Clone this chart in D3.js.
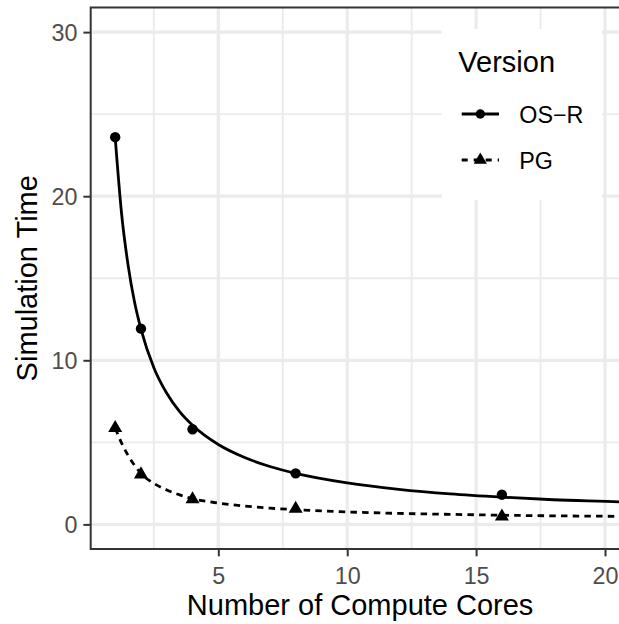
<!DOCTYPE html>
<html>
<head>
<meta charset="utf-8">
<script src="https://cdn.jsdelivr.net/npm/d3@7"></script>
<style>
  html, body { margin: 0; padding: 0; background: #fff; }
  svg { display: block; font-family: "Liberation Sans", Arial, Helvetica, sans-serif; }
</style>
</head>
<body>
<svg id="chart" width="619" height="624"></svg>
<script>
// ---- data ----
const cores = [1, 2, 4, 8, 16];
const osrTime = [23.6, 11.93, 5.8, 3.11, 1.81];
const pgTime = [5.87, 3.05, 1.53, 0.95, 0.48];

// smooth fitted curves as seen in the picture
const fitX   = [1, 1.25, 1.5, 1.75, 2, 2.5, 3, 3.5, 4, 5, 6, 7, 8, 10, 12, 14, 16, 18, 20.54, 21];
const fitOSR = [23.58, 18.9, 15.8, 13.55, 11.9, 9.55, 7.99, 6.87, 6.04, 4.87, 4.09, 3.53, 3.11, 2.53, 2.14, 1.86, 1.66, 1.5, 1.37, 1.34];
const fitPG  = [5.87, 4.95, 4.2, 3.6, 3.1, 2.5, 2.1, 1.8, 1.57, 1.3, 1.12, 0.99, 0.9, 0.76, 0.67, 0.61, 0.56, 0.52, 0.49, 0.48];

const xTicks = [5, 10, 15, 20];
const yTicks = [0, 10, 20, 30];
const xMinor = [2.5, 7.5, 12.5, 17.5];
const yMinor = [5, 15, 25];
const seriesNames = ["OS\u2212R", "PG"];
const legendTitle = "Version";
const xTitle = "Number of Compute Cores";
const yTitle = "Simulation Time";

// ---- layout ----
const svg = d3.select("#chart");
const panel = { left: 90.7, right: 629.5, top: 7.5, bottom: 549 };

const x = d3.scaleLinear().domain([0.05, 20.95]).range([panel.left, panel.right]);
const y = d3.scaleLinear().domain([-1.5, 31.5]).range([panel.bottom, panel.top]);

const defs = svg.append("defs");
defs.append("clipPath").attr("id", "clip")
  .append("rect")
  .attr("x", panel.left).attr("y", panel.top)
  .attr("width", panel.right - panel.left).attr("height", panel.bottom - panel.top);

// panel background
svg.append("rect")
  .attr("x", panel.left).attr("y", panel.top)
  .attr("width", panel.right - panel.left).attr("height", panel.bottom - panel.top)
  .attr("fill", "#fff");

const grid = svg.append("g").attr("clip-path", "url(#clip)");
// minor grid
grid.selectAll(".xminor").data(xMinor).join("line")
  .attr("x1", d => x(d)).attr("x2", d => x(d))
  .attr("y1", panel.top).attr("y2", panel.bottom)
  .attr("stroke", "#EBEBEB").attr("stroke-width", 1.9);
grid.selectAll(".yminor").data(yMinor).join("line")
  .attr("y1", d => y(d)).attr("y2", d => y(d))
  .attr("x1", panel.left).attr("x2", panel.right)
  .attr("stroke", "#EBEBEB").attr("stroke-width", 1.9);
// major grid
grid.selectAll(".xmajor").data(xTicks).join("line")
  .attr("x1", d => x(d)).attr("x2", d => x(d))
  .attr("y1", panel.top).attr("y2", panel.bottom)
  .attr("stroke", "#EBEBEB").attr("stroke-width", 3.2);
grid.selectAll(".ymajor").data(yTicks).join("line")
  .attr("y1", d => y(d)).attr("y2", d => y(d))
  .attr("x1", panel.left).attr("x2", panel.right)
  .attr("stroke", "#EBEBEB").attr("stroke-width", 3.2);

// ---- curves ----
const data = svg.append("g").attr("clip-path", "url(#clip)");
const line = d3.line().x(d => x(d[0])).y(d => y(d[1])).curve(d3.curveMonotoneX);

data.append("path")
  .datum(fitX.map((v, i) => [v, fitOSR[i]]))
  .attr("d", line).attr("fill", "none")
  .attr("stroke", "#000").attr("stroke-width", 2.8);

data.append("path")
  .datum(fitX.map((v, i) => [v, fitPG[i]]))
  .attr("d", line).attr("fill", "none")
  .attr("stroke", "#000").attr("stroke-width", 2.8)
  .attr("stroke-dasharray", "6.5,5.2");

// ---- points ----
const r = 5.2;
function triPath(cx, cy, s) {
  const t0 = 1.5551 * s, t1 = 1.3468 * s, t2 = 0.7776 * s;
  return `M${cx},${cy - t0}L${cx + t1},${cy + t2}L${cx - t1},${cy + t2}Z`;
}
data.selectAll(".pt-osr").data(cores.map((c, i) => [c, osrTime[i]])).join("circle")
  .attr("cx", d => x(d[0])).attr("cy", d => y(d[1])).attr("r", r).attr("fill", "#000");
data.selectAll(".pt-pg").data(cores.map((c, i) => [c, pgTime[i]])).join("path")
  .attr("d", d => triPath(x(d[0]), y(d[1]), r)).attr("fill", "#000");

// ---- panel border ----
svg.append("rect")
  .attr("x", panel.left).attr("y", panel.top)
  .attr("width", panel.right - panel.left).attr("height", panel.bottom - panel.top)
  .attr("fill", "none").attr("stroke", "#333333").attr("stroke-width", 2);

// ---- axes ----
const tickLen = 7.3;
const xAxis = svg.append("g")
  .attr("transform", `translate(0,${panel.bottom})`)
  .call(d3.axisBottom(x).tickValues(xTicks).tickSize(tickLen).tickPadding(5).tickFormat(d3.format("d")));
const yAxis = svg.append("g")
  .attr("transform", `translate(${panel.left},0)`)
  .call(d3.axisLeft(y).tickValues(yTicks).tickSize(tickLen).tickPadding(6).tickFormat(d3.format("d")));

[xAxis, yAxis].forEach(a => {
  a.select(".domain").remove();
  a.selectAll(".tick line").attr("stroke", "#333333").attr("stroke-width", 2);
  a.selectAll(".tick text").attr("fill", "#4D4D4D")
    .style("font-size", "23.3px")
    .style("font-family", "'Liberation Sans', Arial, Helvetica, sans-serif");
});
xAxis.selectAll(".tick text").attr("dy", null).attr("y", 0).attr("dominant-baseline", null)
  .attr("transform", "translate(0,34.5)");
yAxis.selectAll(".tick text").attr("dy", "0.36em");

// axis titles
svg.append("text")
  .attr("x", (panel.left + panel.right) / 2).attr("y", 615)
  .attr("text-anchor", "middle").attr("font-size", "29px").attr("fill", "#000")
  .text(xTitle);
svg.append("text")
  .attr("transform", `translate(36.5,${(panel.top + panel.bottom) / 2}) rotate(-90)`)
  .attr("text-anchor", "middle").attr("font-size", "29px").attr("fill", "#000")
  .text(yTitle);

// ---- legend ----
const lg = svg.append("g");
lg.append("rect").attr("x", 441.7).attr("y", 29).attr("width", 160.3).attr("height", 171)
  .attr("fill", "#fff");
lg.append("text").attr("x", 458.3).attr("y", 71.7)
  .attr("font-size", "29px").attr("fill", "#000").text(legendTitle);

const keyY = [114, 160];
const keyX0 = 461.7, keyX1 = 499, keyXc = 480.3;
seriesNames.forEach((name, i) => {
  const ky = keyY[i];
  const ln = lg.append("line").attr("x1", keyX0).attr("x2", keyX1).attr("y1", ky).attr("y2", ky)
    .attr("stroke", "#000").attr("stroke-width", 2.8);
  if (i === 1) ln.attr("stroke-dasharray", "6,6");
  if (i === 0) {
    lg.append("circle").attr("cx", keyXc).attr("cy", ky).attr("r", 4.7).attr("fill", "#000");
  } else {
    lg.append("path").attr("d", triPath(keyXc, ky, 4.9)).attr("fill", "#000");
  }
  lg.append("text").attr("x", 519.3).attr("y", ky + 8.6)
    .attr("font-size", "23.3px").attr("fill", "#000").text(name);
});
</script>
</body>
</html>
